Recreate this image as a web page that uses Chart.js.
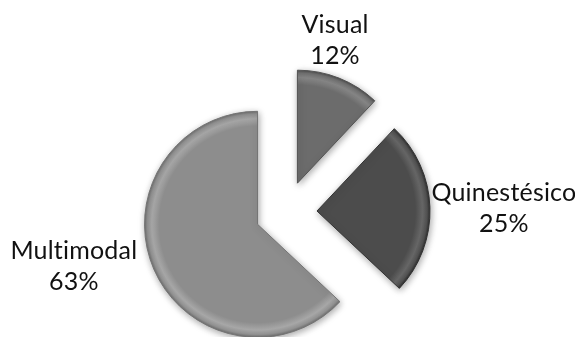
<!DOCTYPE html>
<html>
<head>
<meta charset="utf-8">
<script src="https://cdn.jsdelivr.net/npm/chart.js@4"></script>
<style>
  html, body { margin: 0; padding: 0; background: #fff; }
  #wrap { width: 575px; height: 337px; }
</style>
</head>
<body>
<div id="wrap"><canvas id="estilos"></canvas></div>
<script>
const categorias = ['Visual', 'Quinestésico', 'Multimodal'];
const porcentajes = [12, 25, 63];
const grises = ['#6c6c6c', '#4c4c4c', '#8d8d8d'];

const RADIO = 113;      // pie radius, px
const SEPARACION = 31;  // how far each slice is pulled out, px
// label block placement relative to each slice's outer mid point
const labelNudge = [[-4, -30], [74, 9], [-80, 5]];

function shade(hex, amt) {
  const n = parseInt(hex.slice(1), 16);
  const f = v => Math.max(0, Math.min(255, v + amt));
  return `rgb(${f(n >> 16)},${f((n >> 8) & 255)},${f(n & 255)})`;
}

// radial gradient gives the rounded rim look on each slice
function bisel(c) {
  const base = grises[c.dataIndex];
  const area = c.chart.chartArea;
  if (!area) return base;
  const cx = (area.left + area.right) / 2;
  const cy = (area.top + area.bottom) / 2;
  const g = c.chart.ctx.createRadialGradient(cx, cy, 0, cx, cy, RADIO);
  g.addColorStop(0, base);
  g.addColorStop(0.87, base);
  g.addColorStop(0.935, shade(base, 26));
  g.addColorStop(0.975, shade(base, 6));
  g.addColorStop(1, shade(base, -30));
  return g;
}

const sombra = {
  id: 'sombra',
  beforeDatasetsDraw(chart) {
    const ctx = chart.ctx;
    ctx.save();
    ctx.shadowColor = 'rgba(0,0,0,0.35)';
    ctx.shadowBlur = 7;
    ctx.shadowOffsetX = 1;
    ctx.shadowOffsetY = 2;
  },
  afterDatasetsDraw(chart) {
    chart.ctx.restore();
  }
};

// pull every slice out along its mid angle, keeping its true angle and radius
const separar = {
  id: 'separar',
  beforeDatasetDraw(chart, args) {
    const ctx = chart.ctx;
    args.meta.data.forEach(arc => {
      const p = arc.getProps(['startAngle', 'endAngle'], true);
      const mid = (p.startAngle + p.endAngle) / 2;
      ctx.save();
      ctx.translate(Math.cos(mid) * SEPARACION, Math.sin(mid) * SEPARACION);
      arc.draw(ctx, chart.chartArea);
      ctx.restore();
    });
    return false;
  }
};

const etiquetas = {
  id: 'etiquetas',
  afterDraw(chart) {
    const ctx = chart.ctx;
    const meta = chart.getDatasetMeta(0);
    ctx.save();
    ctx.font = '25px Lato, "Open Sans", sans-serif';
    ctx.letterSpacing = '0.2px';
    ctx.fillStyle = '#111';
    ctx.textAlign = 'center';
    ctx.textBaseline = 'alphabetic';
    meta.data.forEach((arc, i) => {
      const p = arc.getProps(['x', 'y', 'startAngle', 'endAngle', 'outerRadius'], true);
      const mid = (p.startAngle + p.endAngle) / 2;
      const d = p.outerRadius + SEPARACION;
      const x = p.x + Math.cos(mid) * d + labelNudge[i][0];
      const y = p.y + Math.sin(mid) * d + labelNudge[i][1];
      ctx.fillText(categorias[i], x, y - 15.5);
      ctx.fillText(porcentajes[i] + '%', x, y + 15.5);
    });
    ctx.restore();
  }
};

new Chart(document.getElementById('estilos'), {
  type: 'pie',
  data: {
    labels: categorias,
    datasets: [{
      data: porcentajes,
      backgroundColor: bisel,
      borderColor: grises.map(g => shade(g, -25)),
      borderWidth: 1,
      offset: 0,
      hoverOffset: 0,
      radius: RADIO
    }]
  },
  options: {
    responsive: true,
    maintainAspectRatio: false,
    animation: false,
    layout: { padding: { left: 0, right: 3, top: 87, bottom: 0 } },
    plugins: {
      legend: { display: false },
      tooltip: { enabled: false }
    }
  },
  plugins: [sombra, separar, etiquetas]
});
</script>
</body>
</html>
